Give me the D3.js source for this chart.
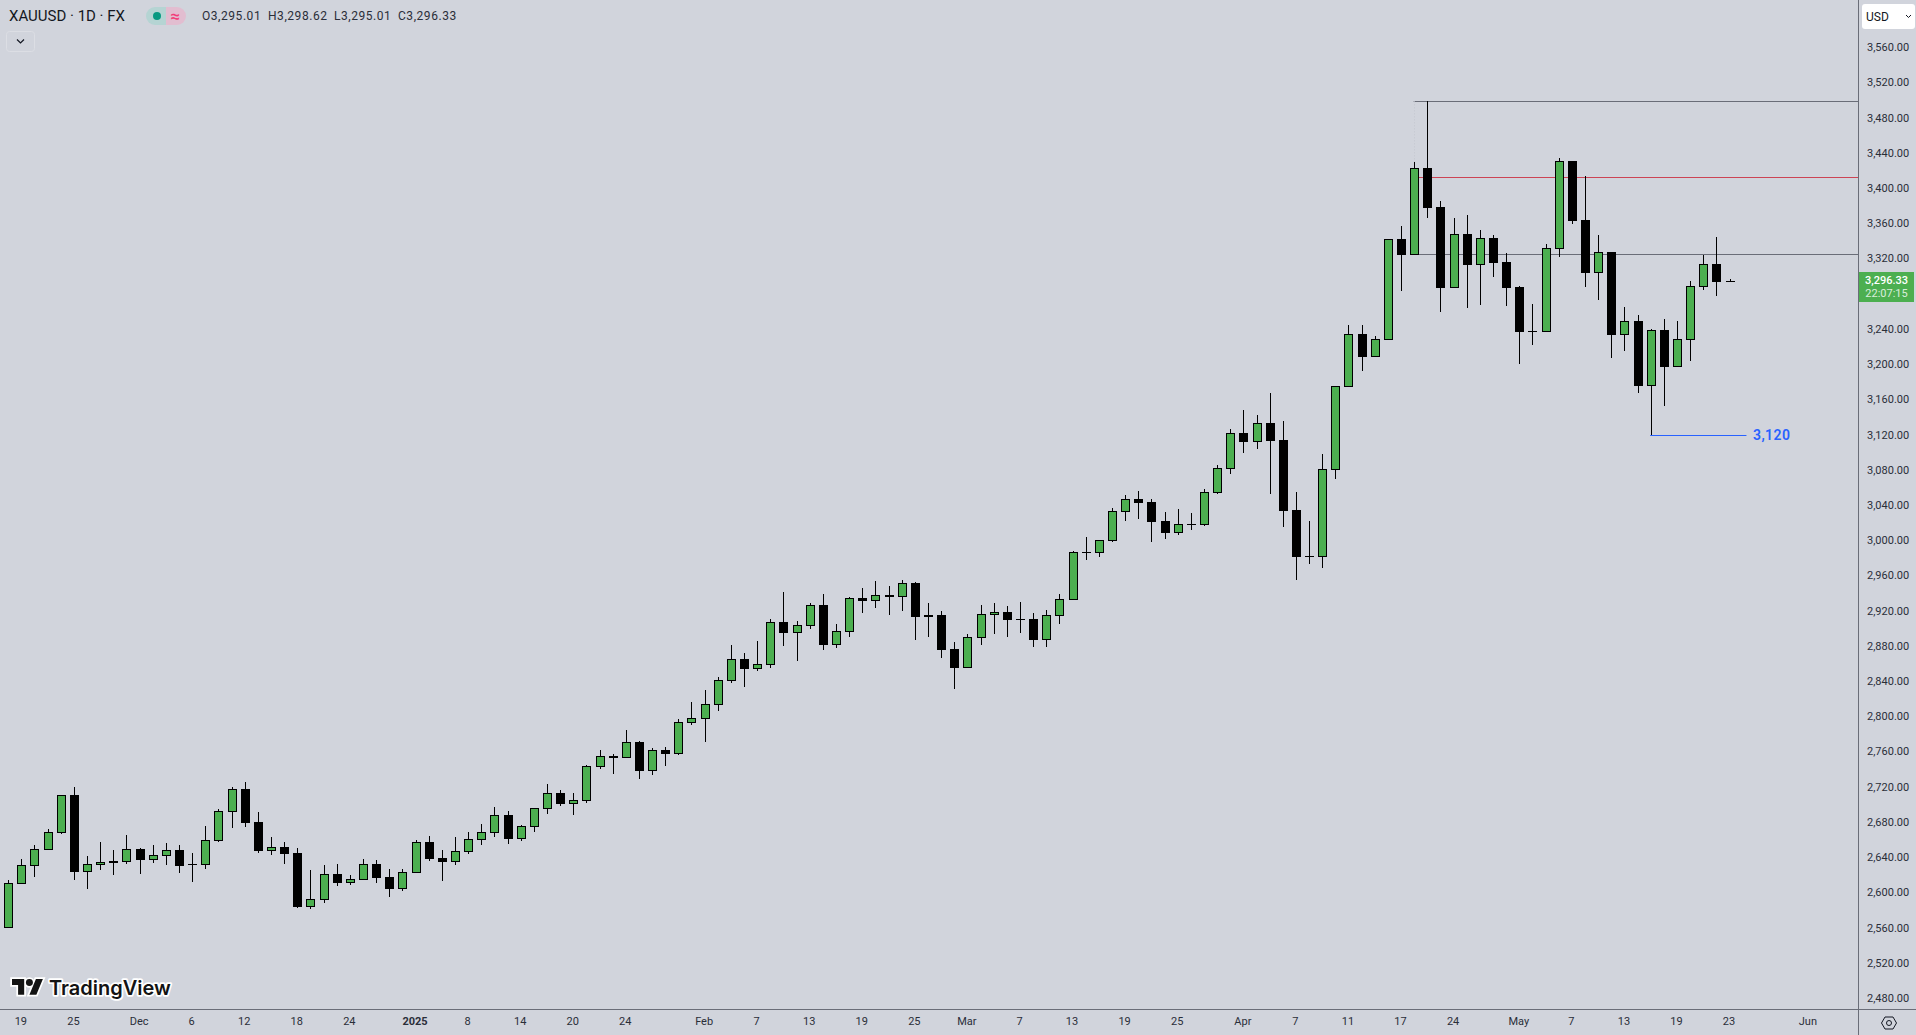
<!DOCTYPE html>
<html>

<head>
  <title>XAUUSD 1D</title>
  <script src="https://cdnjs.cloudflare.com/ajax/libs/d3/7.8.5/d3.min.js"></script>
  <style>
    html, body { margin: 0; padding: 0; background: #d1d4dc; overflow: hidden; }
    svg { display: block; font-family: Roboto, sans-serif; }
  </style>
</head>

<body>
  <svg width="1916" height="1035" id="mainsvg" style="background-color: #d1d4dc;"></svg>
  <script>
    // daily bars (index 0 = 18 Nov 2024)
    const opens = [
      2561.5,2611.4,2631.9,2650.1,2669.4,2712.1,2625.1,2633,2637.2,2636.4,
      2650.8,2638.7,2643.2,2649.7,2633.4,2633,2660.3,2693.2,2719,2681.5,
      2648.9,2653.1,2646.3,2585.3,2593.3,2622.4,2612.6,2616,2633.8,2619,
      2605.8,2623.9,2658.8,2640.6,2636.4,2647.8,2661.4,2669.3,2689.4,2662.5,
      2676.2,2696.6,2714,2702.3,2705.7,2744.3,2756.4,2754.5,2772.3,2739.8,
      2763.3,2758.7,2794.3,2798.5,2814.8,2842,2866.6,2855.5,2860.1,2908.6,
      2896.5,2904.4,2927.9,2882.5,2897.6,2935.8,2932.8,2939.2,2937.4,2952.9,
      2916.5,2916.5,2877.9,2856.7,2890.8,2916.9,2919.9,2911.6,2912,2888.1,
      2915.8,2934,2987.7,2987.4,3000.6,3033.9,3048.3,3044.9,3023.3,3010,
      3019.5,3019.2,3055.5,3082.8,3123.3,3113.4,3134.6,3115.3,3035.8,2983.2,
      2982.4,3081.6,3175.9,3235.7,3209.6,3229.3,3343.5,3325.9,3424.3,3380,
      3288.4,3349.3,3314.5,3344.8,3317.5,3289.1,3238.8,3238.4,3332.7,3432.3,
      3365.2,3305.4,3328.9,3235,3250.5,3177,3240.3,3198.6,3229.3,3289.5,
      3315.3,3295.01
    ];
    const highs = [
      2615.6,2639.5,2655.4,2673.5,2711.8,2721.2,2642.9,2658.8,2649.7,2666.7,
      2651.9,2655.4,2657.6,2655.4,2646.3,2676.9,2695.9,2721.2,2726.9,2692.8,
      2664.4,2658.8,2651.9,2626.9,2632.6,2633.8,2621.3,2639.5,2638.3,2628.1,
      2628.1,2661,2665.6,2649.7,2664.4,2670.1,2679.2,2698.5,2693.9,2678,
      2697,2724.6,2717.8,2714.4,2746.2,2763.3,2758.7,2786,2773.5,2765.5,
      2766.7,2798.5,2817.8,2831.4,2846.2,2882.5,2873.4,2887,2911.6,2942.7,
      2909.7,2930.2,2940.4,2906.3,2937,2947.2,2955.1,2949.5,2956.3,2954,
      2930.2,2921.1,2885.9,2895,2927.9,2930.2,2926.8,2931.3,2918.8,2922.2,
      2940.4,2989.2,3005.1,3001.4,3038.1,3052.9,3057.4,3048.3,3033.5,3037,
      3032.4,3059.7,3086.9,3127.8,3149.4,3143.7,3168.7,3137,3056.3,3023.3,
      3099.4,3176.3,3245.9,3245.9,3233.4,3343.2,3358.4,3431.1,3500,3386.8,
      3367.5,3370.9,3353.9,3348.2,3327.8,3290.3,3269.8,3338,3435.3,3432.3,
      3415.2,3348.2,3328.9,3266.4,3257.3,3241.4,3252.8,3250.5,3296,3325.5,
      3345.9,3298.62
    ];
    const lows = [
      2561.5,2611.4,2619.4,2650,2667.8,2615.6,2605.4,2627,2621.3,2633.8,
      2622.4,2634.9,2632.6,2623.6,2613.3,2628.1,2658.8,2674.7,2675.8,2646.3,
      2644,2633.8,2583.8,2582.7,2589.5,2608.8,2609.9,2616,2612.2,2596.3,
      2603.1,2623.9,2637.2,2614.5,2632.6,2645.1,2655.3,2664.4,2656.5,2659.9,
      2670.1,2690.6,2699.7,2689.4,2703,2741.7,2736,2754.5,2730.3,2734.9,
      2745.1,2757.6,2791.7,2772.4,2807.6,2839.4,2834.8,2853.2,2856.3,2881.3,
      2864.3,2900.6,2876.8,2879,2891.5,2918.8,2924.5,2916.5,2921.1,2888.1,
      2891.5,2867.7,2832.5,2856.7,2882.5,2894.9,2891.5,2896.1,2880.2,2880.2,
      2906.3,2934,2979,2982.4,2999.5,3023.3,3025.6,2999.5,3002.9,3007.4,
      3013.1,3017.6,3054,3076.7,3100.6,3105.1,3054,3016.5,2956.3,2974.5,
      2969.9,3071,3175.9,3193.7,3209.6,3229.3,3284.6,3325.9,3367.5,3260.8,
      3288.4,3265.3,3268.7,3300.5,3267.6,3201.7,3223.3,3238.4,3323.2,3360.7,
      3289.2,3274.4,3208.5,3216.4,3168.8,3120.7,3154,3198.6,3205.1,3285.7,
      3278.9,3295.01
    ];
    const closes = [
      2611.8,2632.3,2650.4,2669.7,2711.8,2624.7,2633.4,2635.7,2634.9,2650.4,
      2638.3,2643.6,2649.3,2631.5,2633,2660.7,2693.6,2718.6,2680.3,2648.5,
      2652.7,2645.1,2584.9,2593.6,2622,2612.2,2616.4,2633.4,2617.9,2605.4,
      2624.3,2658.4,2639.5,2636,2648.1,2661.8,2669.7,2689,2662.5,2676.5,
      2697,2714,2702.3,2706.1,2744.7,2756,2754.2,2772,2739.4,2762.9,
      2758.7,2794.7,2799.2,2815.1,2842.4,2866.2,2855.3,2860.5,2908.2,2896.1,
      2904.8,2927.5,2882.5,2898,2935.5,2932.4,2938.9,2937,2952.5,2914.3,
      2914.3,2876.8,2856.3,2891.2,2917.3,2919.6,2910.9,2911.2,2888.1,2916.2,
      2934.3,2987.7,2987.3,3001.4,3034.3,3047.9,3043.8,3022.2,3009.7,3019.5,
      3019.9,3055.9,3083.2,3122.9,3113,3134.3,3114.2,3034.7,2982.4,2982.8,
      3082,3176.3,3235.3,3209.6,3229.7,3343.2,3325.4,3423.9,3378.9,3288,
      3348.9,3314.1,3344.4,3316.4,3288,3238,3238.4,3333,3431.9,3364.1,
      3305,3328.5,3234.6,3250.2,3176.7,3239.9,3198.3,3229.7,3289.9,3314.9,
      3294.8,3296.33
    ];

    const priceTicks = [
      2480,2520,2560,2600,2640,2680,2720,2760,2800,2840,2880,2920,2960,3000,
      3040,3080,3120,3160,3200,3240,3280,3320,3360,3400,3440,3480,3520,3560
    ];
    // time axis: label and the bar it sits under (Jun is past the last bar)
    const timeLabels = ['19','25','Dec','6','12','18','24','2025','8','14','20','24','Feb','7','13','19','25','Mar','7','13','19','25','Apr','7','11','17','24','May','7','13','19','23','Jun'];
    const timeBars = [1,5,10,14,18,22,26,31,35,39,43,47,53,57,61,65,69,73,77,81,85,89,94,98,102,106,110,115,119,123,127,131,137];
    const boldTimeLabels = ['2025'];

    // horizontal levels drawn on the chart
    const levelPrices = [3500, 3413.7, 3326.3];
    const levelColors = ['#6a6d78', '#cc4455', '#6a6d78'];
    const levelStartBar = 107;
    const lowPrice = 3120;
    const lowBarStart = 125;
    const lowBarEnd = 132.25;

    const bars = opens.map((o, i) => ({ i, o, h: highs[i], l: lows[i], c: closes[i] }));

    const svg = d3.select('#mainsvg');
    const width = +svg.attr('width');
    const height = +svg.attr('height');
    const axisX = 1858;
    const axisY = 1009;
    const textColor = '#2a2e39';
    const lineColor = '#6a6d78';
    const green = '#4caf50';

    const xScale = d3.scaleLinear().domain([0, 131]).range([8.7, 1730.04]);
    const yScale = d3.scaleLinear().domain([3560, 2480]).range([48.5, 999.3]);
    const px = v => Math.floor(v) + 0.5; // keep 1px lines sharp

    // levels go under the candles
    const levels = svg.append('g').attr('id', 'levels');
    levels.selectAll('line').data(levelPrices).join('line')
      .attr('x1', xScale(levelStartBar) - 1).attr('x2', axisX)
      .attr('y1', d => px(yScale(d))).attr('y2', d => px(yScale(d)))
      .attr('stroke', (d, i) => levelColors[i]);
    levels.append('line')
      .attr('x1', px(xScale(levelStartBar))).attr('x2', px(xScale(levelStartBar)))
      .attr('y1', yScale(levelPrices[0])).attr('y2', yScale(highs[levelStartBar]))
      .attr('stroke', '#c3c6cf').attr('stroke-dasharray', '1,2');

    // candles
    const candles = svg.append('g').attr('id', 'candles').attr('shape-rendering', 'crispEdges');
    const candle = candles.selectAll('g').data(bars).join('g');
    candle.append('line')
      .attr('x1', d => px(xScale(d.i))).attr('x2', d => px(xScale(d.i)))
      .attr('y1', d => Math.round(yScale(d.h))).attr('y2', d => Math.round(yScale(d.l)))
      .attr('stroke', '#000');
    const bodyTop = d => Math.round(yScale(Math.max(d.o, d.c)));
    const bodyH = d => Math.max(1, Math.round(yScale(Math.min(d.o, d.c))) - bodyTop(d));
    candle.append('rect')
      .attr('x', d => Math.floor(xScale(d.i)) - 4).attr('width', 9)
      .attr('y', bodyTop).attr('height', bodyH)
      .attr('fill', '#000');
    candle.filter(d => d.c >= d.o && bodyH(d) > 2).append('rect')
      .attr('x', d => Math.floor(xScale(d.i)) - 3).attr('width', 7)
      .attr('y', d => bodyTop(d) + 1).attr('height', d => bodyH(d) - 2)
      .attr('fill', green);

    // low marker
    const lowY = px(yScale(lowPrice));
    svg.append('line')
      .attr('x1', xScale(lowBarStart) - 1).attr('x2', xScale(lowBarEnd))
      .attr('y1', lowY).attr('y2', lowY)
      .attr('stroke', '#2962ff');
    svg.append('text')
      .attr('x', 1753).attr('y', lowY + 4.5)
      .attr('font-size', 14).attr('font-weight', 600)
      .attr('letter-spacing', '0.4px')
      .attr('fill', '#2962ff')
      .text(d3.format(',')(lowPrice));

    // price axis
    const yAxis = d3.axisRight(yScale)
      .tickValues(priceTicks)
      .tickSize(0)
      .tickPadding(0)
      .tickFormat(d3.format(',.2f'));
    const yAxisGroup = svg.append('g').attr('transform', `translate(1867, 0)`).call(yAxis);
    yAxisGroup.selectAll('.domain').remove();
    yAxisGroup.selectAll('text')
      .attr('dy', '0.2em').attr('font-size', 11).attr('font-family', 'Roboto, sans-serif')
      .attr('fill', textColor);

    // time axis
    const xAxis = d3.axisBottom(xScale)
      .tickValues(timeBars)
      .tickSize(0)
      .tickPadding(0)
      .tickFormat((d, i) => timeLabels[i]);
    const xAxisGroup = svg.append('g').attr('transform', `translate(-1.5, ${axisY + 8})`).call(xAxis);
    xAxisGroup.selectAll('.domain').remove();
    xAxisGroup.selectAll('text')
      .attr('font-size', 11).attr('font-family', 'Roboto, sans-serif')
      .attr('font-weight', (d, i) => boldTimeLabels.includes(timeLabels[i]) ? 700 : 400)
      .attr('fill', textColor);

    // panel borders
    svg.append('line').attr('x1', 0).attr('x2', width).attr('y1', axisY + 0.5).attr('y2', axisY + 0.5).attr('stroke', lineColor);
    svg.append('line').attr('x1', axisX + 0.5).attr('x2', axisX + 0.5).attr('y1', 0).attr('y2', height).attr('stroke', lineColor);

    // last price tag
    svg.append('rect').attr('x', 1859).attr('y', 272).attr('width', 55).attr('height', 30).attr('fill', green);
    svg.append('text').attr('x', 1886.5).attr('y', 284).attr('text-anchor', 'middle')
      .attr('font-size', 11).attr('font-weight', 500).attr('fill', '#fff').text(d3.format(',.2f')(closes[closes.length - 1]));
    svg.append('text').attr('x', 1886.5).attr('y', 297).attr('text-anchor', 'middle')
      .attr('font-size', 11).attr('fill', '#fff').attr('fill-opacity', 0.8).text('22:07:15');

    // currency button
    svg.append('rect').attr('x', 1862).attr('y', 4).attr('width', 53).attr('height', 25).attr('rx', 3).attr('fill', '#fff');
    svg.append('text').attr('x', 1866).attr('y', 21).attr('font-size', 12).attr('fill', '#131722').text('USD');
    svg.append('path').attr('d', 'M1906 15l2.5 2.5l2.5-2.5').attr('fill', 'none').attr('stroke', '#131722');

    // header
    svg.append('text').attr('x', 9).attr('y', 21).attr('font-size', 15).attr('fill', '#131722').text('XAUUSD · 1D · FX');
    svg.append('path').attr('d', 'M166 7h-11a9 9 0 0 0 0 18h11z').attr('fill', '#b5d4d3');
    svg.append('path').attr('d', 'M166 7h11a9 9 0 0 1 0 18h-11z').attr('fill', '#e2bdd0');
    svg.append('circle').attr('cx', 157).attr('cy', 16).attr('r', 4).attr('fill', '#089981');
    svg.append('text').attr('x', 175).attr('y', 21.5).attr('text-anchor', 'middle').attr('font-size', 17).attr('font-weight', 500).attr('fill', '#f23d7a').text('≈');
    const ohlcNames = ['O', 'H', 'L', 'C'];
    const ohlcValues = [3295.01, 3298.62, 3295.01, 3296.33];
    const ohlcX = [202, 268, 334, 398];
    svg.append('g').selectAll('text').data(ohlcNames).join('text')
      .attr('x', (d, i) => ohlcX[i]).attr('y', 20)
      .attr('font-size', 12).attr('letter-spacing', '0.55px').attr('fill', textColor)
      .text((d, i) => d + d3.format(',.2f')(ohlcValues[i]));
    svg.append('rect').attr('x', 6.5).attr('y', 31.5).attr('width', 28).attr('height', 20).attr('rx', 3)
      .attr('fill', 'none').attr('stroke', '#dcdee4');
    svg.append('path').attr('d', 'M17 39.5l3.5 3.5l3.5-3.5').attr('fill', 'none').attr('stroke', '#131722').attr('stroke-width', 1.2);

    // logo
    const logo = svg.append('g').attr('id', 'logo');
    const logoPath = 'M14 22H7V11H0V4h14v18zM28 22h-8l7.5-18h8L28 22z';
    const mark = logo.append('g').attr('transform', 'translate(12, 975.5) scale(0.87)');
    mark.append('path').attr('d', logoPath).attr('fill', '#fff').attr('stroke', '#fff').attr('stroke-width', 4);
    mark.append('circle').attr('cx', 20).attr('cy', 8).attr('r', 4).attr('fill', '#fff').attr('stroke', '#fff').attr('stroke-width', 4);
    mark.append('path').attr('d', logoPath).attr('fill', '#131313');
    mark.append('circle').attr('cx', 20).attr('cy', 8).attr('r', 4).attr('fill', '#131313');
    logo.append('text').attr('x', 49).attr('y', 995)
      .attr('font-family', 'Inter, sans-serif').attr('font-size', 20).attr('font-weight', 600)
      .attr('fill', '#131313').attr('stroke', '#fff').attr('stroke-width', 3.5)
      .attr('paint-order', 'stroke').attr('stroke-linejoin', 'round')
      .text('TradingView');

    // settings gear
    svg.append('path').attr('d', 'M1881.5 1023l3.5-6h8l3.5 6l-3.5 6h-8z').attr('fill', 'none').attr('stroke', '#131722');
    svg.append('circle').attr('cx', 1889).attr('cy', 1023).attr('r', 2.5).attr('fill', 'none').attr('stroke', '#131722');
  </script>
</body>

</html>
